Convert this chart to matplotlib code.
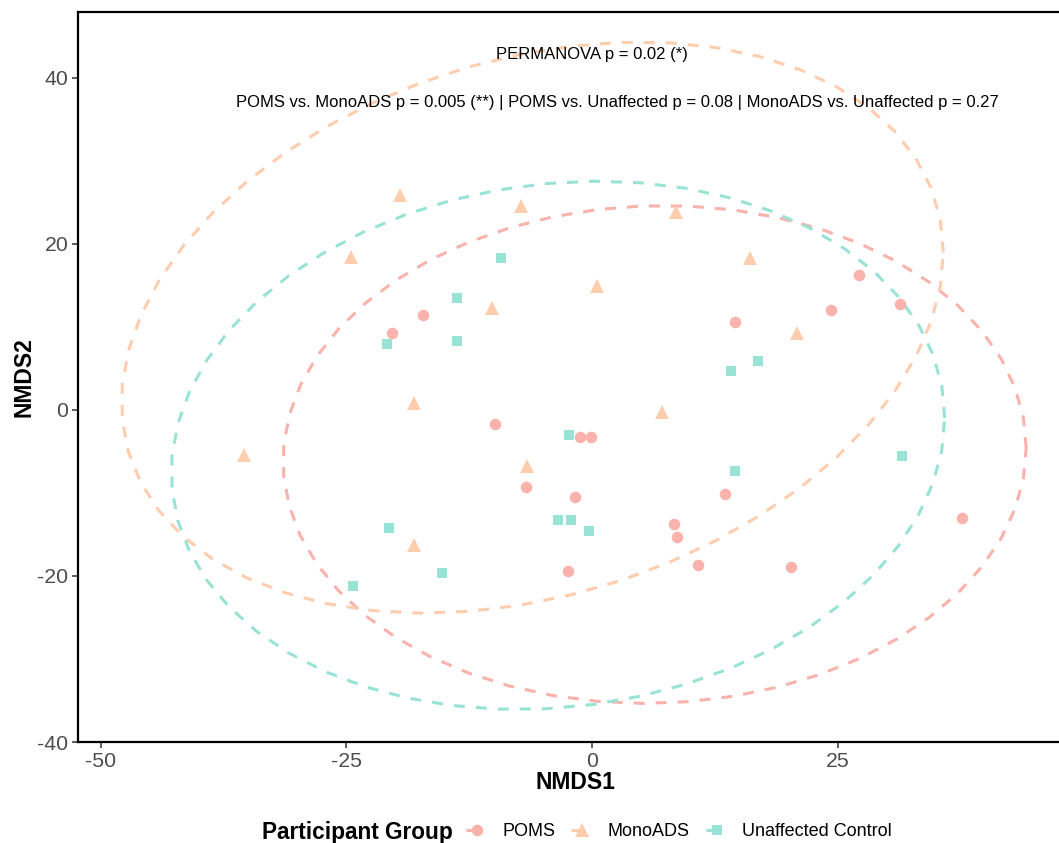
import numpy as np
import matplotlib
matplotlib.use("Agg")
import matplotlib.pyplot as plt
from matplotlib.lines import Line2D

plt.rcParams['font.family'] = ['Liberation Sans', 'DejaVu Sans']

# ---- data ----
groups = ["POMS", "MonoADS", "Unaffected Control"]

poms_x = [-20.4, -17.2, -9.9, -6.7, -1.8, -1.25, -0.1, -2.5, 8.3, 8.6, 10.8, 13.5, 14.5, 20.2, 24.25, 27.1, 31.3, 37.6]
poms_y = [9.3, 11.4, -1.65, -9.3, -10.5, -3.3, -3.3, -19.4, -13.7, -15.3, -18.7, -10.1, 10.6, -18.9, 12.0, 16.3, 12.8, -13.0]

mono_x = [-35.4, -24.5, -19.5, -18.1, -18.1, -10.2, -7.2, -6.6, 0.5, 7.1, 8.5, 16.0, 20.8]
mono_y = [-5.4, 18.4, 25.9, 0.8, -16.3, 12.3, 24.6, -6.7, 14.9, -0.3, 23.8, 18.3, 9.3]

ctrl_x = [-24.3, -20.9, -20.7, -15.3, -13.8, -13.8, -9.3, -3.5, -2.4, -2.2, -0.3, 14.1, 14.5, 16.9, 31.5]
ctrl_y = [-21.2, 8.0, -14.2, -19.6, 13.5, 8.3, 18.35, -13.2, -3.0, -13.2, -14.6, 4.7, -7.3, 5.9, -5.5]

xticks = [-50, -25, 0, 25]
yticks = [-40, -20, 0, 20, 40]

permanova_text = "PERMANOVA p = 0.02 (*)"
pairwise_text = ("POMS vs. MonoADS p = 0.005 (**) | POMS vs. Unaffected p = 0.08 | "
                 "MonoADS vs. Unaffected p = 0.27")

colors = ["#F9B2AC", "#FDCDAE", "#98E3D5"]
markers = ["o", "^", "s"]
msizes = [8.3, 10.6, 7.9]


def cov_trob(X, nu=5, maxit=25, tol=0.01):
    n, p = X.shape
    wt = np.ones(n)
    loc = X.mean(axis=0)
    w = np.sqrt(wt)
    Xc = X - loc
    for _ in range(maxit):
        w0 = w
        Xc = X - loc
        _, d, Vt = np.linalg.svd(np.sqrt(w / w.sum())[:, None] * Xc, full_matrices=False)
        wX = Xc @ Vt.T @ np.diag(1.0 / d)
        Q = (wX ** 2).sum(axis=1)
        w = (wt * (nu + p)) / (nu + Q)
        loc = (w[:, None] * X).sum(axis=0) / w.sum()
        if np.all(np.abs(w - w0) < tol):
            break
    sX = np.sqrt(w)[:, None] * Xc
    cov = sX.T @ sX / wt.sum()
    return loc, cov


def t_ellipse(x, y, level=0.95, segments=51):
    X = np.column_stack([x, y])
    n = X.shape[0]
    center, shape = cov_trob(X)
    R = np.linalg.cholesky(shape).T
    dfn, dfd = 2, n - 1
    qf = dfd / 2.0 * ((1 - level) ** (-2.0 / dfd) - 1)
    radius = np.sqrt(dfn * qf)
    ang = np.arange(segments + 1) * 2 * np.pi / segments
    circ = np.column_stack([np.cos(ang), np.sin(ang)])
    ell = center + radius * (circ @ R)
    return ell[:, 0], ell[:, 1]


W, H = 1059, 843
fig = plt.figure(figsize=(W / 100, H / 100), dpi=100)
ax_left, ax_right = 78, 1072
ax_bottom, ax_top = 742, 12
ax = fig.add_axes([ax_left / W, (H - ax_bottom) / H, (ax_right - ax_left) / W, (ax_bottom - ax_top) / H])

xs = [poms_x, mono_x, ctrl_x]
ys = [poms_y, mono_y, ctrl_y]

lw = 2.2
for gx, gy, c in zip(xs, ys, colors):
    ex, ey = t_ellipse(np.array(gx), np.array(gy))
    ax.plot(ex, ey, color=c, lw=lw, linestyle=(0, (3.6, 3.6)), zorder=2)

for gx, gy, c, m, ms in zip(xs, ys, colors, markers, msizes):
    ax.plot(gx, gy, linestyle="none", marker=m, markersize=ms, color=c,
            markeredgewidth=0, zorder=3)

ax.text(0.0, 42.8, permanova_text, ha="center", va="center", fontsize=12.0, color="black")
ax.text(2.6, 37.1, pairwise_text, ha="center", va="center", fontsize=12.0, color="black")

ax.set_xlim(-52.3, (ax_right - 592.3) / 9.83)
ax.set_ylim(-40.0, 47.95)
ax.set_xticks(xticks)
ax.set_yticks(yticks)
ax.set_xticklabels([str(v) for v in xticks])
ax.set_yticklabels([str(v) for v in yticks])
ax.tick_params(axis="both", labelsize=15.3, labelcolor="#4D4D4D", color="#333333",
               length=4, width=1.1, pad=3)
for side in ["left", "bottom", "top", "right"]:
    ax.spines[side].set_linewidth(1.6)
    ax.spines[side].set_color("black")

ax.set_xlabel("NMDS1", fontsize=16.5, fontweight="bold", labelpad=0)
ax.set_ylabel("NMDS2", fontsize=16.5, fontweight="bold", labelpad=1)

handles = [Line2D([0], [0], color=c, marker=m, markersize=ms, lw=lw,
                  linestyle=(0, (3.6, 3.6)), markeredgewidth=0)
           for c, m, ms in zip(colors, markers, msizes)]
fig.text(262 / W, 1 - 832 / H, "Participant Group", fontsize=16.3, fontweight="bold",
         ha="left", va="center")
fig.legend(handles, groups, loc="center left", bbox_to_anchor=(466 / W, 1 - 832 / H),
           ncol=3, frameon=False, fontsize=13.0, handlelength=1.2, handletextpad=0.8,
           columnspacing=0.9, borderpad=0, borderaxespad=0)

fig.savefig("out.png", dpi=100)
